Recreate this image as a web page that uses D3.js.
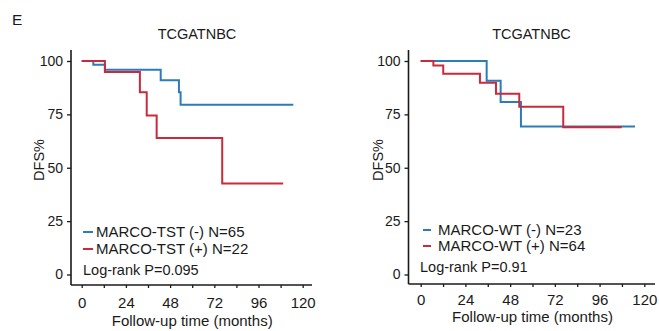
<!DOCTYPE html>
<html>
<head>
<meta charset="utf-8">
<script src="https://cdn.jsdelivr.net/npm/d3@7"></script>
<style>
  body { margin: 0; background: #fff; }
  svg { display: block; font-family: "Liberation Sans", Arial, sans-serif; }
</style>
</head>
<body>
<svg id="chart" width="659" height="331"></svg>
<script>
// Kaplan-Meier curves, DFS% vs follow-up months

const panelTitle = 'TCGATNBC'
const xTicks = [0, 12, 24, 36, 48, 60, 72, 84, 96, 108, 120]
const xLabels = [0, 24, 48, 72, 96, 120]
const yTicks = [0, 25, 50, 75, 100]

// left panel: MARCO-TST
const tstNegTime = [0, 6.3, 12.6, 42.9, 52.8, 53.7, 114.9]
const tstNegSurv = [100, 98.3, 95.9, 91.0, 85.4, 79.5, 79.5]
const tstPosTime = [0, 12.6, 31.6, 35.3, 40.7, 76.3, 109.4]
const tstPosSurv = [100, 94.9, 85.4, 74.5, 63.9, 42.6, 42.6]

// right panel: MARCO-WT
const wtNegTime = [0, 35.4, 42.9, 53.8, 115]
const wtNegSurv = [100, 90.8, 80.8, 69.3, 69.3]
const wtPosTime = [0, 6.8, 12.1, 31.8, 40.4, 52.9, 76.5, 107.9]
const wtPosSurv = [100, 97.9, 94.0, 89.8, 84.7, 78.6, 69.0, 69.0]

const legendTST = ['MARCO-TST (-) N=65', 'MARCO-TST (+) N=22']
const legendWT = ['MARCO-WT (-) N=23', 'MARCO-WT (+) N=64']
const pTST = 'Log-rank P=0.095'
const pWT = 'Log-rank P=0.91'

const blue = '#2c7bbb'
const red = '#c92a3c'
const ink = '#1a1a1a'

const svg = d3.select('#chart')

svg.append('text')
  .attr('x', 12)
  .attr('y', 25)
  .attr('font-size', 15.5)
  .attr('fill', ink)
  .text('E')

function drawPanel (p) {
  let g = svg.append('g')

  let x = d3.scaleLinear()
      .domain([0, 120])
      .range([p.x0, p.x120])

  let y = d3.scaleLinear()
      .domain([0, 100])
      .range([274.5, 61])

  // title
  g.append('text')
    .attr('x', p.titleX)
    .attr('y', 39)
    .attr('text-anchor', 'middle')
    .attr('font-size', 14.5)
    .attr('fill', ink)
    .text(panelTitle)

  // axes
  let xAxis = d3.axisBottom(x)
      .tickValues(xTicks)
      .tickSize(3)
      .tickFormat(d => xLabels.includes(d) ? d : '')

  let gx = g.append('g')
    .attr('transform', 'translate(0,' + p.axisY + ')')
    .call(xAxis)
  gx.select('.domain').remove()
  gx.selectAll('line').attr('stroke', ink).attr('stroke-width', 1.3)
  gx.selectAll('text')
    .attr('y', p.xLabelY - p.axisY)
    .attr('dy', 0)
    .attr('font-size', 15)
    .attr('font-family', '"Liberation Sans", Arial, sans-serif')
    .attr('fill', ink)

  let yAxis = d3.axisLeft(y)
      .tickValues(yTicks)
      .tickSize(4)
      .tickPadding(4)

  let gy = g.append('g')
    .attr('transform', 'translate(' + p.axisX + ',0)')
    .call(yAxis)
  gy.select('.domain').remove()
  gy.selectAll('line').attr('stroke', ink).attr('stroke-width', 1.3)
  gy.selectAll('text')
    .attr('font-size', 14)
    .attr('font-family', '"Liberation Sans", Arial, sans-serif')
    .attr('fill', ink)

  g.append('line')
    .attr('x1', p.axisX).attr('x2', p.axisX)
    .attr('y1', 50).attr('y2', p.axisY)
    .attr('stroke', ink)
    .attr('stroke-width', 1.6)

  g.append('line')
    .attr('x1', p.axisX).attr('x2', p.axisEnd)
    .attr('y1', p.axisY).attr('y2', p.axisY)
    .attr('stroke', ink)
    .attr('stroke-width', 1.6)

  // axis titles
  g.append('text')
    .attr('transform', 'translate(' + p.ylabX + ',160) rotate(-90)')
    .attr('text-anchor', 'middle')
    .attr('font-size', 14.5)
    .attr('fill', ink)
    .text('DFS%')

  g.append('text')
    .attr('x', (p.x0 + p.x120) / 2)
    .attr('y', p.xTitleY)
    .attr('text-anchor', 'middle')
    .attr('font-size', 15)
    .attr('fill', ink)
    .text('Follow-up time (months)')

  // curves
  let line = d3.line()
      .x(d => x(d[0]))
      .y(d => y(d[1]))
      .curve(d3.curveStepAfter)

  p.series.forEach(s => {
    g.append('path')
      .datum(d3.zip(s.time, s.surv))
      .attr('d', line)
      .attr('fill', 'none')
      .attr('stroke', s.color)
      .attr('stroke-width', 2)
  })

  // legend
  p.series.forEach((s, i) => {
    let ly = p.legendY[i]
    g.append('line')
      .attr('x1', p.legendX).attr('x2', p.legendX + p.keyLen)
      .attr('y1', ly).attr('y2', ly)
      .attr('stroke', s.color)
      .attr('stroke-width', 2)
    g.append('text')
      .attr('x', p.legendTextX)
      .attr('y', ly + 5)
      .attr('font-size', 15)
      .attr('fill', ink)
      .text(p.labels[i])
  })

  g.append('text')
    .attr('x', p.pX)
    .attr('y', p.pY)
    .attr('font-size', 14.5)
    .attr('fill', ink)
    .text(p.pText)
}

drawPanel({
  x0: 81.7, x120: 302.7, axisX: 71, axisY: 285, axisEnd: 312,
  titleX: 197, xLabelY: 308, xTitleY: 326, ylabX: 44,
  series: [
    { time: tstNegTime, surv: tstNegSurv, color: blue },
    { time: tstPosTime, surv: tstPosSurv, color: red }
  ],
  labels: legendTST,
  legendX: 83, keyLen: 10, legendTextX: 96, legendY: [232, 249],
  pText: pTST, pX: 83, pY: 275
})

drawPanel({
  x0: 420.7, x120: 644.3, axisX: 408.5, axisY: 284, axisEnd: 655,
  titleX: 531.5, xLabelY: 305, xTitleY: 322, ylabX: 383,
  series: [
    { time: wtNegTime, surv: wtNegSurv, color: blue },
    { time: wtPosTime, surv: wtPosSurv, color: red }
  ],
  labels: legendWT,
  legendX: 423, keyLen: 8, legendTextX: 438, legendY: [230, 246],
  pText: pWT, pX: 420, pY: 272
})
</script>
</body>
</html>
